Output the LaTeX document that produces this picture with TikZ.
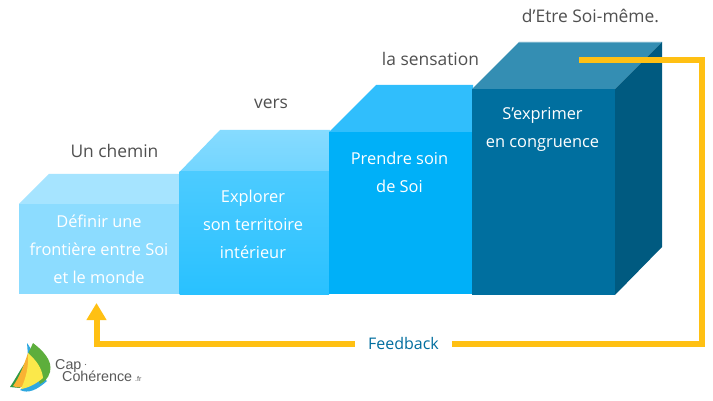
\documentclass[tikz,border=0pt]{standalone}
\usepackage{fontspec}
\setmainfont{Open Sans}
\newfontfamily\logofont{Liberation Sans}
\usetikzlibrary{arrows.meta}
\definecolor{fbyellow}{HTML}{FFC013}
\definecolor{fbblue}{HTML}{006E9F}
\definecolor{capt}{HTML}{505050}
\definecolor{aTop}{HTML}{A6E4FF}
\definecolor{aFront}{HTML}{8CDCFF}
\definecolor{bTopA}{HTML}{72D5FF}
\definecolor{bTopB}{HTML}{86DBFF}
\definecolor{bFrontA}{HTML}{4CCBFF}
\definecolor{bFrontB}{HTML}{29C1FF}
\definecolor{cTop}{HTML}{30BEFC}
\definecolor{cFront}{HTML}{00B0F8}
\definecolor{dTop}{HTML}{348EB3}
\definecolor{dFront}{HTML}{006F9F}
\definecolor{dSide}{HTML}{005A80}
\definecolor{sailgreen}{HTML}{5DAE3C}
\definecolor{saildark}{HTML}{2E9A45}
\definecolor{sailblue}{HTML}{2FA8E0}
\definecolor{sailorange}{HTML}{F9B233}
\definecolor{sailyellow}{HTML}{FBE84A}
\tikzset{
  boxtext/.style={text=white,font=\fontsize{16.4}{28}\selectfont,align=center,inner sep=0pt},
  steplabel/.style={text=capt,font=\fontsize{17.4}{20}\selectfont,inner sep=0pt},
  fbline/.style={draw=fbyellow,line width=6pt},
  logotext/.style={text=black!65,font=\logofont\fontsize{14.3}{15}\selectfont,inner sep=0pt,anchor=base west},
}
\begin{document}
\begin{tikzpicture}[x=1pt,y=-1pt]
\useasboundingbox (0,0) rectangle (713,401);
\fill[white] (0,0) rectangle (713,401);
% block 1
\fill[aTop] (19,204) -- (49,174) -- (180,174) -- (180,204) -- cycle;
\fill[aFront] (19,204) rectangle (180,294);
% block 2
\shade[bottom color=bTopA,top color=bTopB] (179.5,172) -- (220,130) -- (330,130) -- (330,172) -- cycle;
\shade[top color=bFrontA,bottom color=bFrontB] (179.5,172) rectangle (329,294);
% block 3
\fill[cTop] (329,132) -- (376,85) -- (473,85) -- (473,132) -- cycle;
\fill[cFront] (329,132) rectangle (472,294);
% block 4
\fill[dTop] (472,89) -- (519,42) -- (662,42) -- (615,89) -- cycle;
\draw[dTop!70!white,line width=.7pt] (519,42) -- (662,42);
\fill[dSide] (615,89) -- (662,42) -- (662,247) -- (615,295) -- cycle;
\fill[dFront] (472,89) rectangle (615,295);
% labels
\node[steplabel] (l1) at (114.5,150.5) {Un chemin};
\node[steplabel] (l2) at (271,103.5) {vers};
\node[steplabel] (l3) at (430.5,58.5) {la sensation};
\node[steplabel] (l4) at (590.5,15.5) {d’Etre Soi-même.};
% box texts
\node[boxtext] (t1) at (99,249) {Définir une\\frontière entre Soi\\et le monde};
\node[boxtext] (t2) at (253,224) {Explorer\\son territoire\\intérieur};
\node[boxtext] (t3) at (399.5,172.5) {Prendre soin\\de Soi};
\node[boxtext] (t4) at (542.5,129) {S’exprimer\\en congruence};
% feedback
\node[text=fbblue,font=\fontsize{16}{18}\selectfont,inner xsep=13pt,inner ysep=0pt] (fb) at (403.5,343) {Feedback};
\coordinate (fbstart) at (579,60);
\coordinate (fbtarget) at (96.5,303);
\draw[fbline,line join=miter] (fbstart) -- (702,60) -- (702,344) -- (fb.east |- 0,344);
\draw[fbline,line join=miter,-{Triangle[length=17pt,width=19pt]}] (fb.west |- 0,344) -- (96.5,344) -- (fbtarget);
% logo
\fill[sailblue] (27,343) .. controls (32,350) and (34,355) .. (36,362) -- (28,356) -- cycle;
\fill[saildark] (10,387) .. controls (16,378) and (20,370) .. (25,363) -- (30,370) -- (20,388) -- cycle;
\fill[sailblue] (20,390) .. controls (28,394) and (37,390) .. (47,381) -- (40,376) -- cycle;
\fill[sailgreen] (33,343) .. controls (42,350) and (53,360) .. (50,372) .. controls (48,379) and (44,382) .. (40,384) -- (28,354) -- cycle;
\fill[sailorange] (13,386) .. controls (19,378) and (24,365) .. (28,353) .. controls (30,362) and (33,372) .. (32,382) .. controls (27,387) and (20,389) .. (13,386) -- cycle;
\fill[sailyellow] (28,353) .. controls (36,360) and (42,368) .. (43,378) .. controls (36,384) and (28,388) .. (21,389) .. controls (26,378) and (29,366) .. (28,353) -- cycle;
\node[logotext] (cap) at (55,369) {Cap};
\fill[black!55] (85.5,364.5) circle (.6);
\node[logotext] (coh) at (62,381.5) {Cohérence};
\node[logotext,font=\logofont\fontsize{7}{7}\selectfont] (fr) at (135,381.5) {.fr};
\end{tikzpicture}
\end{document}
